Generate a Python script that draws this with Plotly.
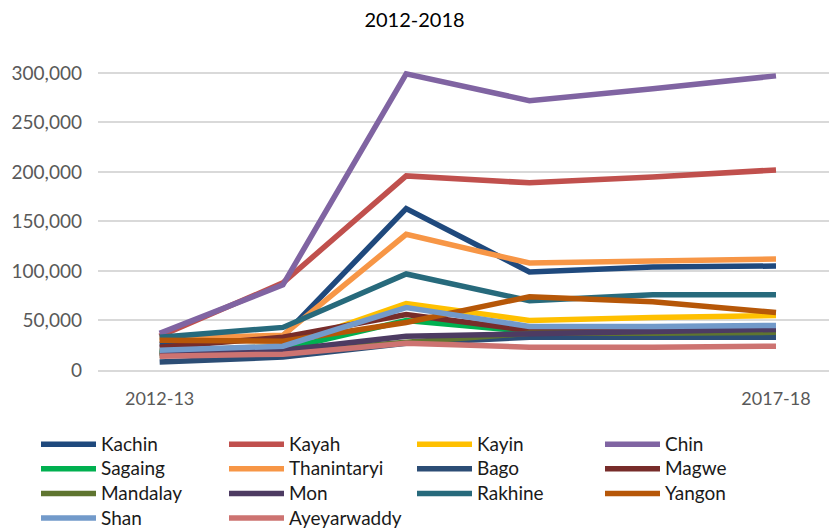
import plotly.graph_objects as go

# Fiscal years on the category axis
years = ["2012-13", "2013-14", "2014-15", "2015-16", "2016-17", "2017-18"]
year_labels = ["2012-13", "", "", "", "", "2017-18"]

# Values per state / region
kachin = [26000, 34000, 163000, 99000, 104000, 105000]
kayah = [34000, 88000, 196000, 189000, 195000, 202000]
kayin = [19000, 24000, 67000, 50000, 53000, 55000]
chin = [37000, 86000, 299000, 272000, 284000, 297000]
sagaing = [18000, 21000, 50000, 39000, 39000, 39000]
thanintaryi = [32000, 35000, 137000, 108000, 110000, 112000]
bago = [8000, 13000, 27000, 33000, 33000, 33000]
magwe = [23000, 33000, 56000, 40000, 41000, 42000]
mandalay = [15000, 18000, 28000, 37000, 37000, 38000]
mon = [17000, 20000, 34000, 37000, 39000, 41000]
rakhine = [33000, 43000, 97000, 70000, 76000, 76000]
yangon = [30000, 29000, 48000, 74000, 69000, 58000]
shan = [20000, 24000, 63000, 44000, 44000, 45000]
ayeyarwaddy = [14000, 16000, 27000, 23000, 23000, 24000]

series = [
    ("Kachin", kachin, "#1F497D"),
    ("Kayah", kayah, "#C0504D"),
    ("Kayin", kayin, "#FFC000"),
    ("Chin", chin, "#8064A2"),
    ("Sagaing", sagaing, "#00B050"),
    ("Thanintaryi", thanintaryi, "#F79646"),
    ("Bago", bago, "#2C4D75"),
    ("Magwe", magwe, "#772C2A"),
    ("Mandalay", mandalay, "#5F7530"),
    ("Mon", mon, "#4D3B62"),
    ("Rakhine", rakhine, "#276A7C"),
    ("Yangon", yangon, "#B65708"),
    ("Shan", shan, "#729ACA"),
    ("Ayeyarwaddy", ayeyarwaddy, "#CD7371"),
]

FONT = "Lato"
# legend rows are spaced by the legend font size; the label itself is drawn larger
LEGEND_LABEL = '<span style="font-size:19px">{}</span>'

fig = go.Figure()
for name, vals, color in series:
    fig.add_trace(go.Scatter(
        x=list(range(len(years))), y=vals, name=LEGEND_LABEL.format(name),
        mode="lines", line=dict(color=color, width=5.5),
    ))

plot_left, plot_top, plot_bottom = 98, 63, 370
plot_w, plot_h = 829 - plot_left, plot_bottom - plot_top

fig.update_layout(
    width=829, height=529,
    margin=dict(l=plot_left, r=0, t=plot_top, b=529 - plot_bottom, autoexpand=False),
    paper_bgcolor="white", plot_bgcolor="white",
    font=dict(family=FONT, size=18, color="#595959"),
    title=dict(text="2012-2018", x=0.5, xanchor="center",
               y=1 - 20 / 529, yanchor="middle", yref="container",
               font=dict(family=FONT, size=20, color="#000000")),
    xaxis=dict(
        range=[-0.5, 5.43], tickmode="array",
        tickvals=list(range(len(years))), ticktext=year_labels,
        showgrid=False, zeroline=False, showline=True,
        linecolor="#D9D9D9", linewidth=1.5, ticks="",
        ticklabelstandoff=12,
        tickfont=dict(family=FONT, size=18, color="#595959"),
    ),
    yaxis=dict(
        range=[0, 310000], tickvals=[0, 50000, 100000, 150000, 200000, 250000, 300000],
        tickformat=",", showgrid=True, gridcolor="#D9D9D9", gridwidth=1.5,
        zeroline=False, showline=False, ticks="", ticklabelstandoff=15,
        tickfont=dict(family=FONT, size=19, color="#595959"),
    ),
    showlegend=True,
    legend=dict(
        orientation="h", xref="paper", yref="paper",
        x=(36 - plot_left) / plot_w, xanchor="left",
        y=(plot_bottom - 427) / plot_h, yanchor="top",
        entrywidth=118, entrywidthmode="pixels", itemwidth=55,
        tracegroupgap=0, traceorder="normal",
        font=dict(family=FONT, size=16.6, color="#1A1A1A"),
        bgcolor="rgba(0,0,0,0)",
    ),
)

fig.write_html("out.html")
